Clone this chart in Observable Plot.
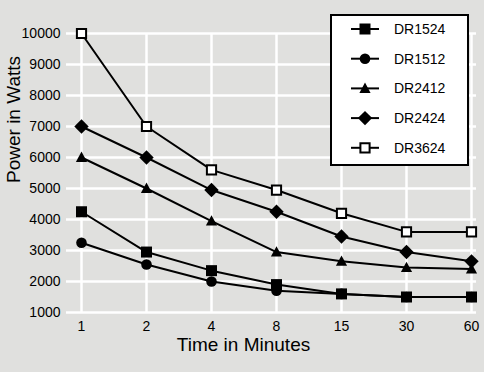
<!DOCTYPE html>
<html>
<head>
<meta charset="utf-8">
<script src="https://cdn.jsdelivr.net/npm/d3@7"></script>
<script src="https://cdn.jsdelivr.net/npm/@observablehq/plot@0.6"></script>
<style>
  html, body { margin: 0; padding: 0; background: #e0e0de; }
  #chart { width: 484px; height: 372px; }
</style>
</head>
<body>
<div id="chart"></div>
<script>
const times = ["1", "2", "4", "8", "15", "30", "60"];
const yTicks = [1000, 2000, 3000, 4000, 5000, 6000, 7000, 8000, 9000, 10000];
const seriesNames = ["DR1524", "DR1512", "DR2412", "DR2424", "DR3624"];
const dr1524 = [4250, 2950, 2350, 1900, 1600, 1500, 1500];
const dr1512 = [3250, 2550, 2000, 1700, 1600, 1500, 1500];
const dr2412 = [6000, 5000, 3950, 2950, 2650, 2450, 2400];
const dr2424 = [7000, 6000, 4950, 4250, 3450, 2950, 2650];
const dr3624 = [10000, 7000, 5600, 4950, 4200, 3600, 3600];
const xTitle = "Time in Minutes";
const yTitle = "Power in Watts";

const R = s => Math.sqrt(s / Math.PI);
const symSquare = {draw(c, s) { const r = R(s); c.rect(-r, -r, 2 * r, 2 * r); }};
const symCircle = {draw(c, s) { const r = R(s); c.moveTo(r, 0); c.arc(0, 0, r, 0, 2 * Math.PI); }};
const symTriangle = {draw(c, s) { const r = R(s); c.moveTo(0, -r * 1.05); c.lineTo(r, r * 0.8); c.lineTo(-r, r * 0.8); c.closePath(); }};
const symDiamond = {draw(c, s) { const r = R(s); c.moveTo(0, -r); c.lineTo(r, 0); c.lineTo(0, r); c.lineTo(-r, 0); c.closePath(); }};

const styles = {
  DR1524: {symbol: symSquare, r: 5.5, fill: "black", stroke: "none"},
  DR1512: {symbol: symCircle, r: 5.3, fill: "black", stroke: "none"},
  DR2412: {symbol: symTriangle, r: 5.6, fill: "black", stroke: "none"},
  DR2424: {symbol: symDiamond, r: 7.2, fill: "black", stroke: "none"},
  DR3624: {symbol: symSquare, r: 4.6, fill: "white", stroke: "black"}
};

const values = [dr1524, dr1512, dr2412, dr2424, dr3624];
const rows = seriesNames.flatMap((name, i) => times.map((t, j) => ({series: name, time: t, power: values[i][j]})));

const font = "'Liberation Sans', Arial, Helvetica, sans-serif";

const marks = [
  Plot.ruleY(yTicks, {y: d => d, stroke: "#ffffff", strokeWidth: 2.5, strokeOpacity: 1}),
  Plot.ruleX(times, {x: d => d, y1: () => 1000, y2: () => 10000, stroke: "#ffffff", strokeWidth: 2.5, strokeOpacity: 1}),
  Plot.axisY(yTicks, {tickSize: 0, tickPadding: 6, label: null, fontSize: 14, tickFormat: d => String(d)}),
  Plot.axisX({tickSize: 0, tickPadding: 9, label: null, fontSize: 14}),
  Plot.text([xTitle], {frameAnchor: "bottom", dx: -28, dy: 38, fontSize: 19}),
  Plot.text([yTitle], {frameAnchor: "left", rotate: -90, dx: -52.5, dy: 10, fontSize: 19})
];
for (const name of seriesNames) {
  const d = rows.filter(r => r.series === name);
  marks.push(Plot.line(d, {x: "time", y: "power", stroke: "black", strokeWidth: 2}));
}
for (const name of seriesNames) {
  const d = rows.filter(r => r.series === name);
  const st = styles[name];
  marks.push(Plot.dot(d, {x: "time", y: "power", symbol: () => st.symbol, r: st.r, fill: st.fill, stroke: st.stroke, strokeWidth: 2}));
}

const chart = Plot.plot({
  width: 484,
  height: 372,
  marginTop: 33,
  marginBottom: 60,
  marginLeft: 66,
  marginRight: 8,
  style: {background: "#e0e0de", fontFamily: font, fontSize: "14px", color: "black", overflow: "visible"},
  x: {type: "point", domain: times, range: [80.5, 470.5], padding: 0},
  y: {domain: [1000, 10000]},
  symbol: {type: "identity"},
  marks
});
document.getElementById("chart").appendChild(chart);

// legend inside the SVG
const svg = d3.select(chart);
const lg = svg.append("g").attr("font-family", font).attr("font-size", 14).attr("text-anchor", "start");
lg.append("rect").attr("x", 331).attr("y", 15).attr("width", 137).attr("height", 150)
  .attr("fill", "white").attr("stroke", "black").attr("stroke-width", 2);
seriesNames.forEach((name, i) => {
  const st = styles[name];
  const cy = 29 + i * 29.7;
  lg.append("line").attr("x1", 351).attr("x2", 379).attr("y1", cy).attr("y2", cy)
    .attr("stroke", "black").attr("stroke-width", 2);
  lg.append("path").attr("transform", `translate(365,${cy})`)
    .attr("d", d3.symbol(st.symbol, st.r * st.r * Math.PI)())
    .attr("fill", st.fill).attr("stroke", st.stroke).attr("stroke-width", 2);
  lg.append("text").attr("x", 394).attr("y", cy).attr("dy", "0.35em").attr("text-anchor", "start").text(name);
});
</script>
</body>
</html>
